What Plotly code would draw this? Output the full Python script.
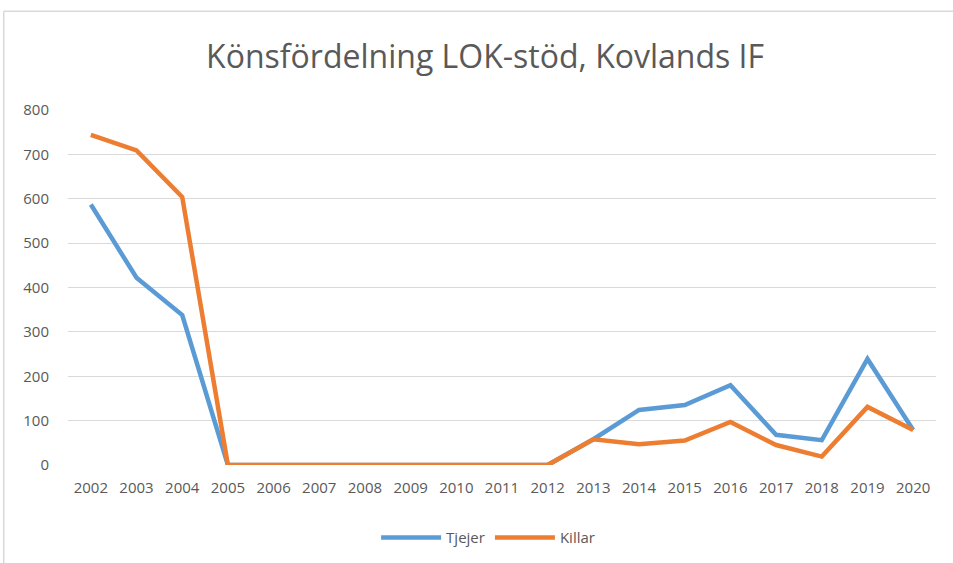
import plotly.graph_objects as go

years = [str(y) for y in range(2002, 2021)]
tjejer = [587, 422, 338, 0, 0, 0, 0, 0, 0, 0, 0, 58, 124, 135, 180, 68, 56, 239, 79]
killar = [744, 709, 604, 0, 0, 0, 0, 0, 0, 0, 0, 58, 47, 55, 97, 45, 19, 131, 79]
y_ticks = [0, 100, 200, 300, 400, 500, 600, 700, 800]

FONT = "Open Sans"
GREY = "#595959"

fig = go.Figure()
fig.add_trace(go.Scatter(x=years, y=tjejer, mode="lines", name="Tjejer",
                         line=dict(color="#5B9BD5", width=4.5)))
fig.add_trace(go.Scatter(x=years, y=killar, mode="lines", name="Killar",
                         line=dict(color="#ED7D31", width=4.5)))

fig.update_layout(
    width=953, height=563,
    margin=dict(l=68, r=17, t=110, b=98, autoexpand=False),
    paper_bgcolor="white", plot_bgcolor="white",
    font=dict(family=FONT, color=GREY, size=15),
    title=dict(text="Könsfördelning LOK-stöd, Kovlands IF", x=0.509, xanchor="center",
               y=0.9, yanchor="middle",
               font=dict(family=FONT, size=32, color=GREY)),
    showlegend=True,
    legend=dict(orientation="h", x=0.484, xanchor="center", y=-0.205, yanchor="middle",
                font=dict(size=15, color=GREY), itemwidth=60),
    xaxis=dict(type="category", range=[-0.5, 18.5], showgrid=False, zeroline=False,
               showline=False, ticks="", automargin=False, ticklabelstandoff=12,
               tickfont=dict(size=15, color=GREY)),
    yaxis=dict(range=[0, 800], tickvals=y_ticks, showgrid=True, gridcolor="#D9D9D9",
               gridwidth=1, zeroline=False, showline=False, ticks="", automargin=False,
               ticklabelstandoff=18, tickfont=dict(size=15, color=GREY)),
    shapes=[
        dict(type="line", xref="paper", yref="paper", x0=-0.074, x1=1.02, y0=1.278, y1=1.278,
             line=dict(color="#D9D9D9", width=1.5)),
        dict(type="line", xref="paper", yref="paper", x0=-0.074, x1=-0.074, y0=1.278, y1=-0.28,
             line=dict(color="#D9D9D9", width=1.5)),
    ],
)

fig.write_html("out.html", config={"displayModeBar": False},
               post_script="document.body.style.margin='0px';")
